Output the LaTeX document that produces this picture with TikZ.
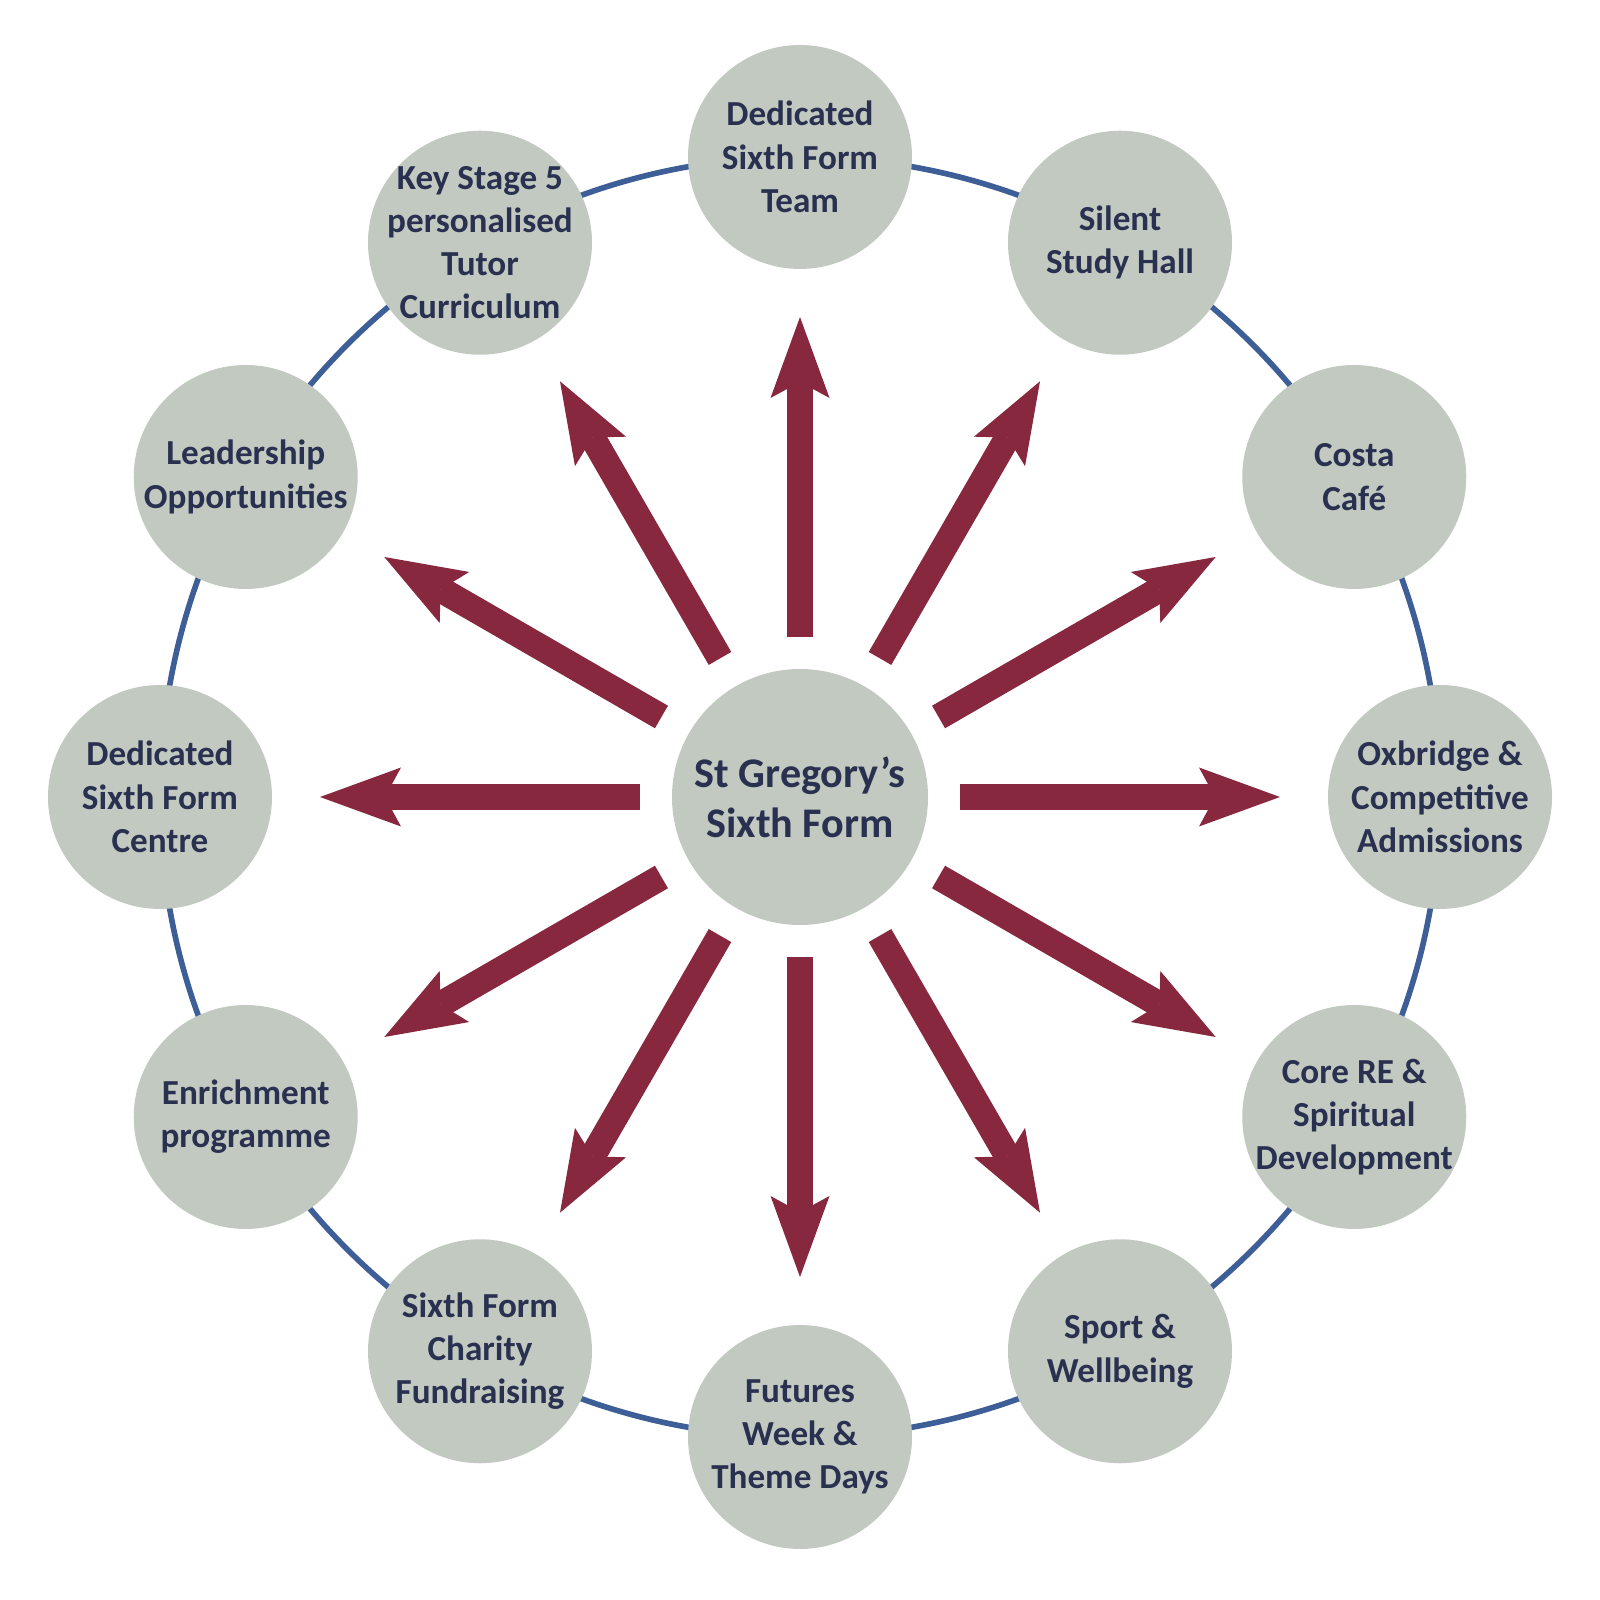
\documentclass[tikz,border=0pt]{standalone}
\usepackage{fontspec}
\setmainfont{Carlito}
\usetikzlibrary{arrows.meta}
\definecolor{spokered}{HTML}{87283E}
\definecolor{ringblue}{HTML}{3D5E96}
\definecolor{discgrey}{HTML}{C1C9C0}
\definecolor{inkblue}{HTML}{2A3150}
\begin{document}
\begin{tikzpicture}[line join=miter,
	disc/.style={circle,fill=discgrey,text=inkblue,inner sep=-5mm,outer sep=0pt,minimum size=2.24cm,align=center,font=\fontsize{10}{12.3}\selectfont\bfseries},
	spoke/.style={spokered,line width=2.6mm,-{Stealth[length=8.1mm,width=5.9mm,inset=1.6mm,line width=0pt]},shorten <=3.2mm,shorten >=4.8mm}]
				\def\r{6.4};
				\useasboundingbox (-8,-8.03) rectangle (8,7.97);
				\draw[ringblue,line width=1.6pt] (0,0) circle (\r);
				\node[disc,minimum size=2.56cm,font=\fontsize{12}{14.2}\selectfont\bfseries] (S) at (0,0) {St Gregory’s\\Sixth Form};
				\foreach \x/\g/\t in {
					A/90/{Dedicated\\Sixth Form\\Team},
					B/60/{Silent\\Study Hall},
					C/30/{Costa\\Café},
					D/0/{Oxbridge \&\\Competitive\\Admissions},
					E/-30/{Core RE \&\\Spiritual\\Development},
					F/-60/{Sport \&\\Wellbeing},
					G/-90/{Futures\\Week \&\\Theme Days},
					H/-120/{Sixth Form\\Charity\\Fundraising},
					I/-150/{Enrichment\\programme},
					J/180/{Dedicated\\Sixth Form\\Centre},
					K/150/{Leadership\\Opportunities},
					L/120/{Key Stage 5\\personalised\\Tutor\\Curriculum}}
				{\node[disc] (\x) at (\g:\r) {\t};
				\draw[spoke] (S) -- (\x);}
\end{tikzpicture}
\end{document}
